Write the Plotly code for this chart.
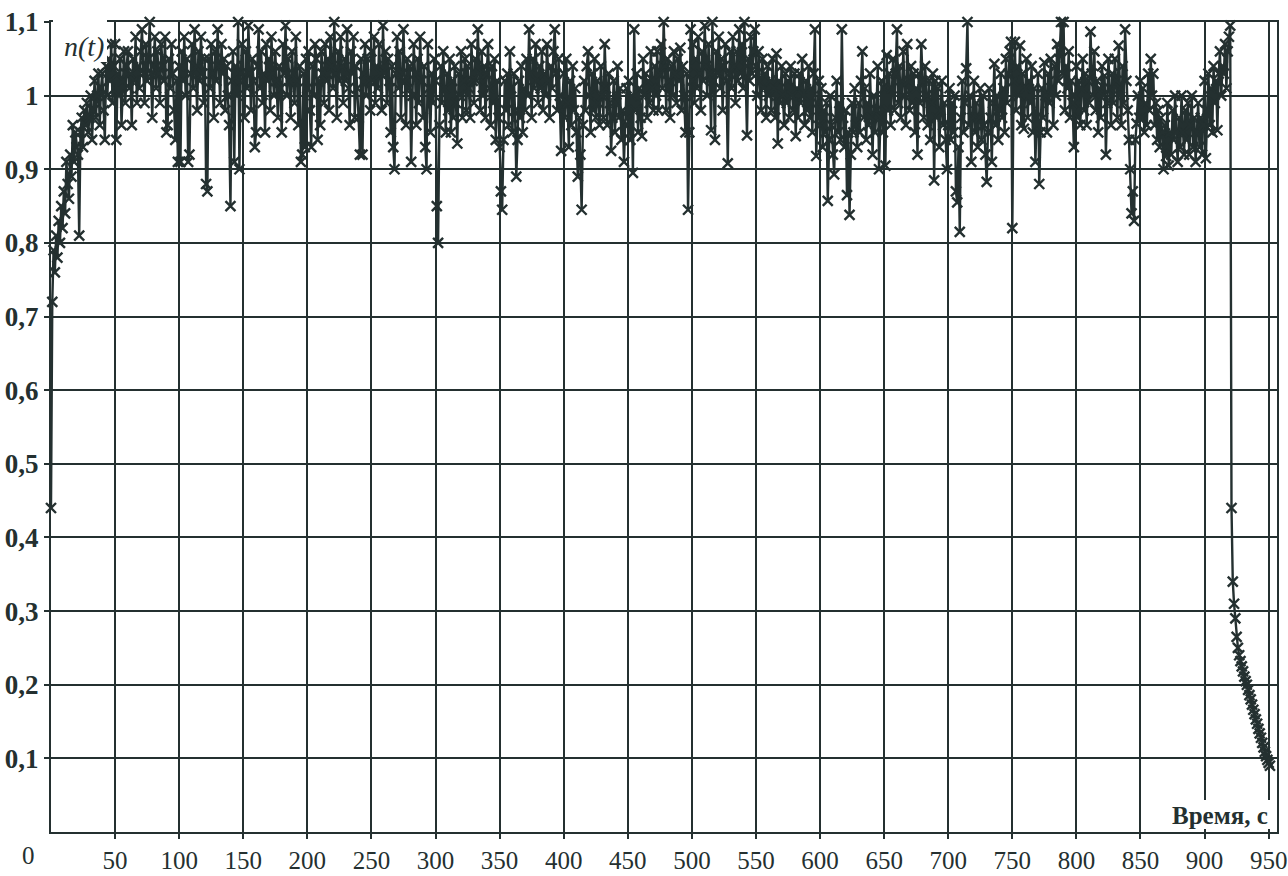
import plotly.graph_objects as go

# n(t) sampled once per second; the run is split into 50-second blocks
seg_000 = [0.44, 0.72, 0.79, 0.76, 0.81, 0.78, 0.83, 0.80, 0.85, 0.82,
           0.87, 0.84, 0.91, 0.88, 0.86, 0.92, 0.89, 0.96, 0.91, 0.95,
           0.93, 0.92, 0.81, 0.95, 0.97, 0.93, 0.98, 0.96, 0.99, 0.95,
           0.97, 1.00, 0.94, 0.98, 1.02, 0.97, 1.00, 1.03, 0.96, 1.01,
           1.03, 0.98, 0.94, 1.04, 1.00, 1.05, 1.02, 1.07, 0.99, 1.04]
seg_050 = [1.07, 0.94, 1.03, 1.00, 1.05, 0.96, 1.02, 1.06, 0.99, 1.04,
           1.06, 1.01, 1.03, 0.96, 1.05, 1.02, 1.08, 0.99, 1.04, 1.01,
           1.06, 1.09, 1.03, 0.99, 1.07, 1.02, 1.05, 1.10, 1.03, 0.97,
           1.04, 1.08, 1.01, 1.06, 1.03, 0.99, 1.07, 1.04, 1.02, 1.08,
           0.95, 0.96, 1.05, 1.01, 1.07, 1.03, 0.98, 0.94, 1.02, 0.91]
seg_100 = [1.04, 0.91, 1.06, 1.02, 1.08, 1.00, 1.05, 0.91, 0.92, 1.03,
           1.07, 1.01, 1.09, 1.04, 0.98, 1.06, 1.02, 1.08, 1.03, 0.99,
           1.05, 0.88, 0.87, 1.05, 1.01, 1.07, 1.03, 0.97, 1.06, 1.02,
           1.09, 1.04, 0.99, 1.07, 1.03, 1.05, 0.98, 1.04, 1.00, 0.96,
           0.85, 1.02, 1.06, 0.91, 1.04, 1.00, 1.10, 0.90, 1.03, 1.07]
seg_150 = [1.02, 0.97, 1.06, 1.01, 1.095, 1.03, 0.98, 1.05, 1.02, 0.93,
           0.95, 1.04, 1.09, 1.01, 1.06, 0.99, 1.03, 0.95, 1.07, 1.02,
           1.05, 0.98, 1.08, 1.03, 1.00, 1.06, 1.02, 0.97, 1.04, 1.01,
           0.95, 1.07, 1.03, 1.095, 1.00, 1.05, 1.02, 0.97, 1.06, 1.03,
           0.99, 1.08, 1.02, 0.96, 1.04, 0.91, 0.92, 1.03, 0.93, 1.05]
seg_200 = [1.01, 1.06, 0.98, 0.93, 1.04, 1.00, 1.07, 1.05, 0.94, 1.02,
           0.96, 1.06, 1.03, 0.99, 1.07, 1.02, 1.05, 0.98, 1.08, 1.04,
           1.01, 1.10, 1.03, 0.97, 1.06, 1.02, 1.08, 1.04, 0.99, 1.05,
           1.02, 1.09, 1.01, 0.96, 1.06, 1.03, 1.08, 0.97, 1.04, 1.01,
           0.97, 0.92, 1.05, 0.92, 1.03, 1.07, 1.00, 1.05, 1.02, 0.98]
seg_250 = [1.06, 1.02, 1.08, 0.99, 1.04, 1.01, 1.07, 1.03, 0.98, 1.095,
           1.03, 1.06, 0.99, 1.05, 1.02, 0.95, 1.04, 0.93, 0.90, 1.03,
           1.08, 1.01, 1.06, 0.97, 1.03, 1.09, 1.02, 0.96, 1.05, 1.01,
           1.04, 0.91, 1.00, 1.07, 1.03, 0.96, 1.05, 0.99, 1.08, 1.02,
           0.97, 1.04, 0.93, 0.90, 1.07, 1.01, 0.95, 1.03, 0.99, 1.05]
seg_300 = [1.02, 0.85, 0.80, 0.96, 1.04, 0.99, 1.06, 1.01, 0.95, 1.03,
           0.98, 1.05, 0.95, 1.02, 0.97, 1.04, 0.99, 0.935, 1.03, 1.00,
           1.06, 0.97, 1.02, 1.05, 0.98, 1.04, 1.01, 0.97, 1.07, 1.02,
           0.99, 1.05, 1.02, 1.09, 1.03, 0.98, 1.06, 1.00, 1.04, 0.97,
           1.03, 1.07, 1.01, 0.96, 1.04, 0.99, 1.05, 0.94, 1.02, 0.97]
seg_350 = [0.93, 0.87, 0.845, 0.94, 1.02, 0.98, 1.03, 0.96, 1.06, 1.01,
           0.95, 1.03, 0.98, 0.89, 0.94, 1.02, 0.97, 1.04, 0.95, 1.01,
           0.98, 1.05, 1.00, 1.09, 1.03, 0.97, 1.05, 1.01, 1.07, 1.02,
           0.99, 1.04, 1.01, 1.06, 0.98, 1.03, 1.00, 1.07, 1.02, 0.97,
           1.04, 1.01, 1.06, 1.09, 1.03, 0.98, 1.05, 1.00, 0.925, 0.99]
seg_400 = [1.03, 0.97, 1.05, 0.99, 0.93, 1.02, 0.96, 1.04, 0.98, 1.01,
           0.95, 0.89, 0.97, 0.92, 0.845, 0.96, 1.02, 0.98, 1.04, 1.06,
           1.00, 0.95, 1.03, 0.98, 1.05, 0.97, 1.02, 0.99, 0.96, 1.04,
           1.00, 0.97, 1.07, 1.01, 0.96, 1.03, 0.99, 0.925, 0.97, 1.02,
           0.95, 0.99, 1.04, 0.97, 1.01, 0.94, 0.98, 0.91, 0.96, 1.01]
seg_450 = [0.97, 1.02, 0.94, 1.00, 0.895, 1.09, 0.98, 1.03, 0.95, 1.01,
           0.97, 0.945, 1.05, 1.00, 1.03, 0.97, 1.02, 0.99, 1.06, 1.01,
           0.98, 1.04, 1.00, 1.06, 0.98, 1.03, 1.07, 1.01, 1.10, 1.04,
           0.98, 1.05, 1.02, 0.97, 1.04, 1.00, 1.06, 1.03, 0.99, 1.05,
           1.02, 1.065, 0.98, 1.04, 1.00, 0.95, 1.03, 0.845, 0.95, 1.09]
seg_500 = [1.02, 1.07, 0.99, 1.05, 1.01, 1.08, 1.03, 0.98, 1.06, 1.02,
           1.095, 1.04, 1.00, 1.07, 1.03, 0.953, 1.10, 1.02, 0.94, 1.06,
           1.03, 1.08, 1.01, 1.05, 0.98, 1.04, 1.07, 1.02, 0.908, 1.03,
           1.06, 1.01, 1.08, 1.04, 0.99, 1.06, 1.02, 1.09, 1.03, 1.07,
           1.01, 1.10, 1.04, 0.946, 1.05, 1.02, 1.08, 1.03, 1.06, 1.09]
seg_550 = [1.04, 1.00, 1.06, 1.02, 0.98, 1.05, 1.01, 1.03, 0.97, 1.04,
           1.00, 1.02, 0.98, 1.05, 1.01, 0.97, 1.057, 0.935, 1.02, 0.99,
           1.04, 1.00, 0.96, 1.03, 0.99, 1.02, 0.97, 1.04, 1.00, 0.98,
           1.03, 0.945, 1.01, 0.97, 1.03, 0.99, 1.05, 1.00, 0.96, 1.02,
           0.98, 1.04, 0.97, 1.01, 0.95, 1.03, 1.09, 0.918, 0.99, 1.02]
seg_600 = [0.96, 1.01, 0.93, 0.98, 0.95, 0.99, 0.857, 0.94, 1.00, 0.96,
           0.92, 0.893, 0.97, 1.02, 0.95, 0.99, 0.94, 1.09, 0.97, 0.93,
           0.98, 0.865, 0.95, 0.838, 0.92, 0.99, 0.95, 1.01, 0.96, 0.93,
           0.99, 0.95, 1.02, 1.06, 0.97, 1.01, 0.94, 0.99, 0.96, 1.03,
           0.97, 0.92, 1.00, 0.95, 0.98, 1.04, 0.90, 0.97, 1.02, 0.95]
seg_650 = [1.01, 0.905, 1.055, 0.98, 1.03, 0.96, 1.01, 1.05, 0.98, 1.03,
           1.09, 0.99, 1.04, 0.97, 1.02, 1.06, 1.00, 0.96, 1.07, 1.02,
           0.98, 1.04, 0.99, 1.03, 0.95, 1.01, 0.92, 1.03, 0.99, 1.07,
           1.02, 0.97, 1.04, 1.00, 0.96, 1.02, 0.94, 0.99, 1.03, 0.885,
           1.02, 0.97, 1.01, 0.93, 0.98, 1.02, 0.96, 0.99, 0.94, 0.90]
seg_700 = [0.96, 1.01, 0.94, 0.99, 0.95, 1.00, 0.87, 0.855, 0.93, 0.815,
           0.97, 1.02, 0.95, 0.99, 1.037, 1.10, 0.96, 1.00, 0.91, 0.97,
           1.02, 0.95, 0.99, 0.93, 0.97, 1.01, 0.94, 1.00, 0.96, 0.92,
           0.883, 0.95, 1.01, 0.97, 0.91, 0.99, 1.043, 0.96, 1.00, 0.94,
           0.98, 1.03, 0.97, 1.01, 0.95, 1.05, 0.99, 1.03, 1.06, 1.073]
seg_750 = [0.82, 1.02, 1.073, 0.98, 1.04, 1.00, 1.068, 0.96, 1.03, 0.955,
           1.01, 1.05, 0.97, 1.02, 0.99, 1.04, 0.95, 1.01, 0.91, 0.97,
           1.03, 0.88, 0.95, 1.01, 0.97, 1.045, 1.00, 0.95, 1.03, 0.99,
           1.05, 1.01, 0.96, 1.04, 1.00, 1.07, 1.02, 1.06, 1.10, 1.03,
           1.10, 0.98, 1.04, 1.01, 1.06, 0.97, 1.02, 0.99, 0.93, 1.00]
seg_800 = [1.04, 0.97, 1.02, 0.96, 1.01, 1.05, 0.98, 1.03, 0.96, 1.02,
           0.99, 1.087, 1.03, 1.00, 1.06, 0.98, 1.02, 0.95, 1.01, 0.97,
           1.04, 1.00, 1.027, 0.92, 0.99, 1.05, 1.01, 0.96, 1.03, 0.99,
           1.05, 1.02, 0.97, 1.068, 1.01, 0.96, 1.04, 0.99, 1.09, 1.02,
           0.98, 0.94, 0.90, 0.84, 0.87, 0.83, 0.94, 0.962, 1.00, 0.97]
seg_850 = [1.02, 0.97, 1.01, 0.95, 0.99, 0.96, 1.03, 0.98, 1.05, 1.00,
           1.03, 0.96, 0.99, 0.94, 0.98, 0.93, 0.97, 0.95, 0.90, 0.96,
           0.918, 0.99, 0.905, 0.95, 0.92, 0.98, 0.94, 1.00, 0.95, 0.91,
           0.97, 0.93, 1.00, 0.95, 0.92, 0.98, 0.94, 0.99, 0.92, 0.96,
           1.00, 0.93, 0.97, 0.91, 0.95, 0.99, 0.93, 0.97, 0.92, 0.96]
seg_900 = [1.02, 0.915, 0.98, 1.03, 0.96, 1.01, 0.95, 1.04, 0.99, 1.02,
           0.953, 1.03, 1.06, 1.00, 1.04, 1.03, 1.07, 1.01, 1.06, 1.08,
           1.095]
# shutdown: n(t) decays after t = 921 s
decay_tail = [0.44, 0.34, 0.31, 0.29, 0.265, 0.25, 0.24, 0.232, 0.225, 0.218,
              0.211, 0.205, 0.20, 0.193, 0.186, 0.18, 0.173, 0.166, 0.16, 0.153,
              0.147, 0.14, 0.134, 0.128, 0.121, 0.115, 0.109, 0.103, 0.098, 0.094,
              0.09]

n_t = (seg_000 + seg_050 + seg_100 + seg_150 + seg_200 + seg_250 + seg_300
       + seg_350 + seg_400 + seg_450 + seg_500 + seg_550 + seg_600 + seg_650
       + seg_700 + seg_750 + seg_800 + seg_850 + seg_900 + decay_tail)
time_s = list(range(len(n_t)))

x_ticks = [50, 100, 150, 200, 250, 300, 350, 400, 450, 500,
           550, 600, 650, 700, 750, 800, 850, 900, 950]
x_tick_text = [str(v) for v in x_ticks]
y_ticks = [0.1, 0.2, 0.3, 0.4, 0.5, 0.6, 0.7, 0.8, 0.9, 1.0, 1.1]
y_tick_text = ["0,1", "0,2", "0,3", "0,4", "0,5", "0,6", "0,7", "0,8", "0,9", "1", "1,1"]

INK = "#243030"
W, H = 1288, 876
L, R, T, B = 51, 11, 22, 44
PW, PH = W - L - R, H - T - B


def px(x):
    return (x - L) / PW


def py(y):
    return 1 - (y - T) / PH


fig = go.Figure()
fig.add_trace(go.Scatter(
    x=time_s, y=n_t, mode="lines+markers",
    line=dict(color=INK, width=2.4),
    marker=dict(symbol="x-thin", size=10, color=INK,
                line=dict(color=INK, width=2.4)),
    cliponaxis=False, showlegend=False,
))

fig.update_layout(
    width=W, height=H,
    margin=dict(l=L, r=R, t=T, b=B, autoexpand=False),
    paper_bgcolor="white", plot_bgcolor="white",
    xaxis=dict(
        range=[0, 956.5], tickmode="array", tickvals=x_ticks, ticktext=x_tick_text,
        showgrid=True, gridcolor=INK, gridwidth=2,
        showline=True, linecolor=INK, linewidth=2, mirror=True,
        ticks="outside", ticklen=5, tickwidth=2, tickcolor=INK,
        tickfont=dict(size=25, family="Liberation Serif", color=INK),
        zeroline=False, automargin=False,
    ),
    yaxis=dict(
        range=[0, 1.1], tickmode="array", tickvals=y_ticks, ticktext=y_tick_text,
        showgrid=True, gridcolor=INK, gridwidth=2,
        showline=True, linecolor=INK, linewidth=2, mirror=True,
        ticks="outside", ticklen=5, tickwidth=2, tickcolor=INK,
        tickfont=dict(size=27, family="Liberation Serif", color=INK, weight="bold"),
        zeroline=False, automargin=False,
    ),
)

# white label boxes over the grid
fig.add_shape(type="rect", xref="paper", yref="paper", layer="above",
              x0=px(53), x1=px(107), y0=py(62), y1=py(19),
              fillcolor="white", line=dict(width=0))
fig.add_shape(type="rect", xref="paper", yref="paper", layer="above",
              x0=px(1164), x1=px(1275), y0=py(829), y1=py(800),
              fillcolor="white", line=dict(width=0))

label_font = dict(family="Liberation Serif", color=INK)
fig.add_annotation(xref="paper", yref="paper", x=px(84), y=py(46),
                   xanchor="center", yanchor="middle",
                   text="<i>n(t)</i>", showarrow=False,
                   font=dict(size=28, **label_font))
fig.add_annotation(xref="paper", yref="paper", x=px(1220), y=py(815),
                   xanchor="center", yanchor="middle",
                   text="<b>Время, с</b>", showarrow=False,
                   font=dict(size=25, **label_font))
fig.add_annotation(xref="paper", yref="paper", x=px(28), y=py(855),
                   xanchor="center", yanchor="middle",
                   text="0", showarrow=False,
                   font=dict(size=25, **label_font))

fig.write_html("out.html")
